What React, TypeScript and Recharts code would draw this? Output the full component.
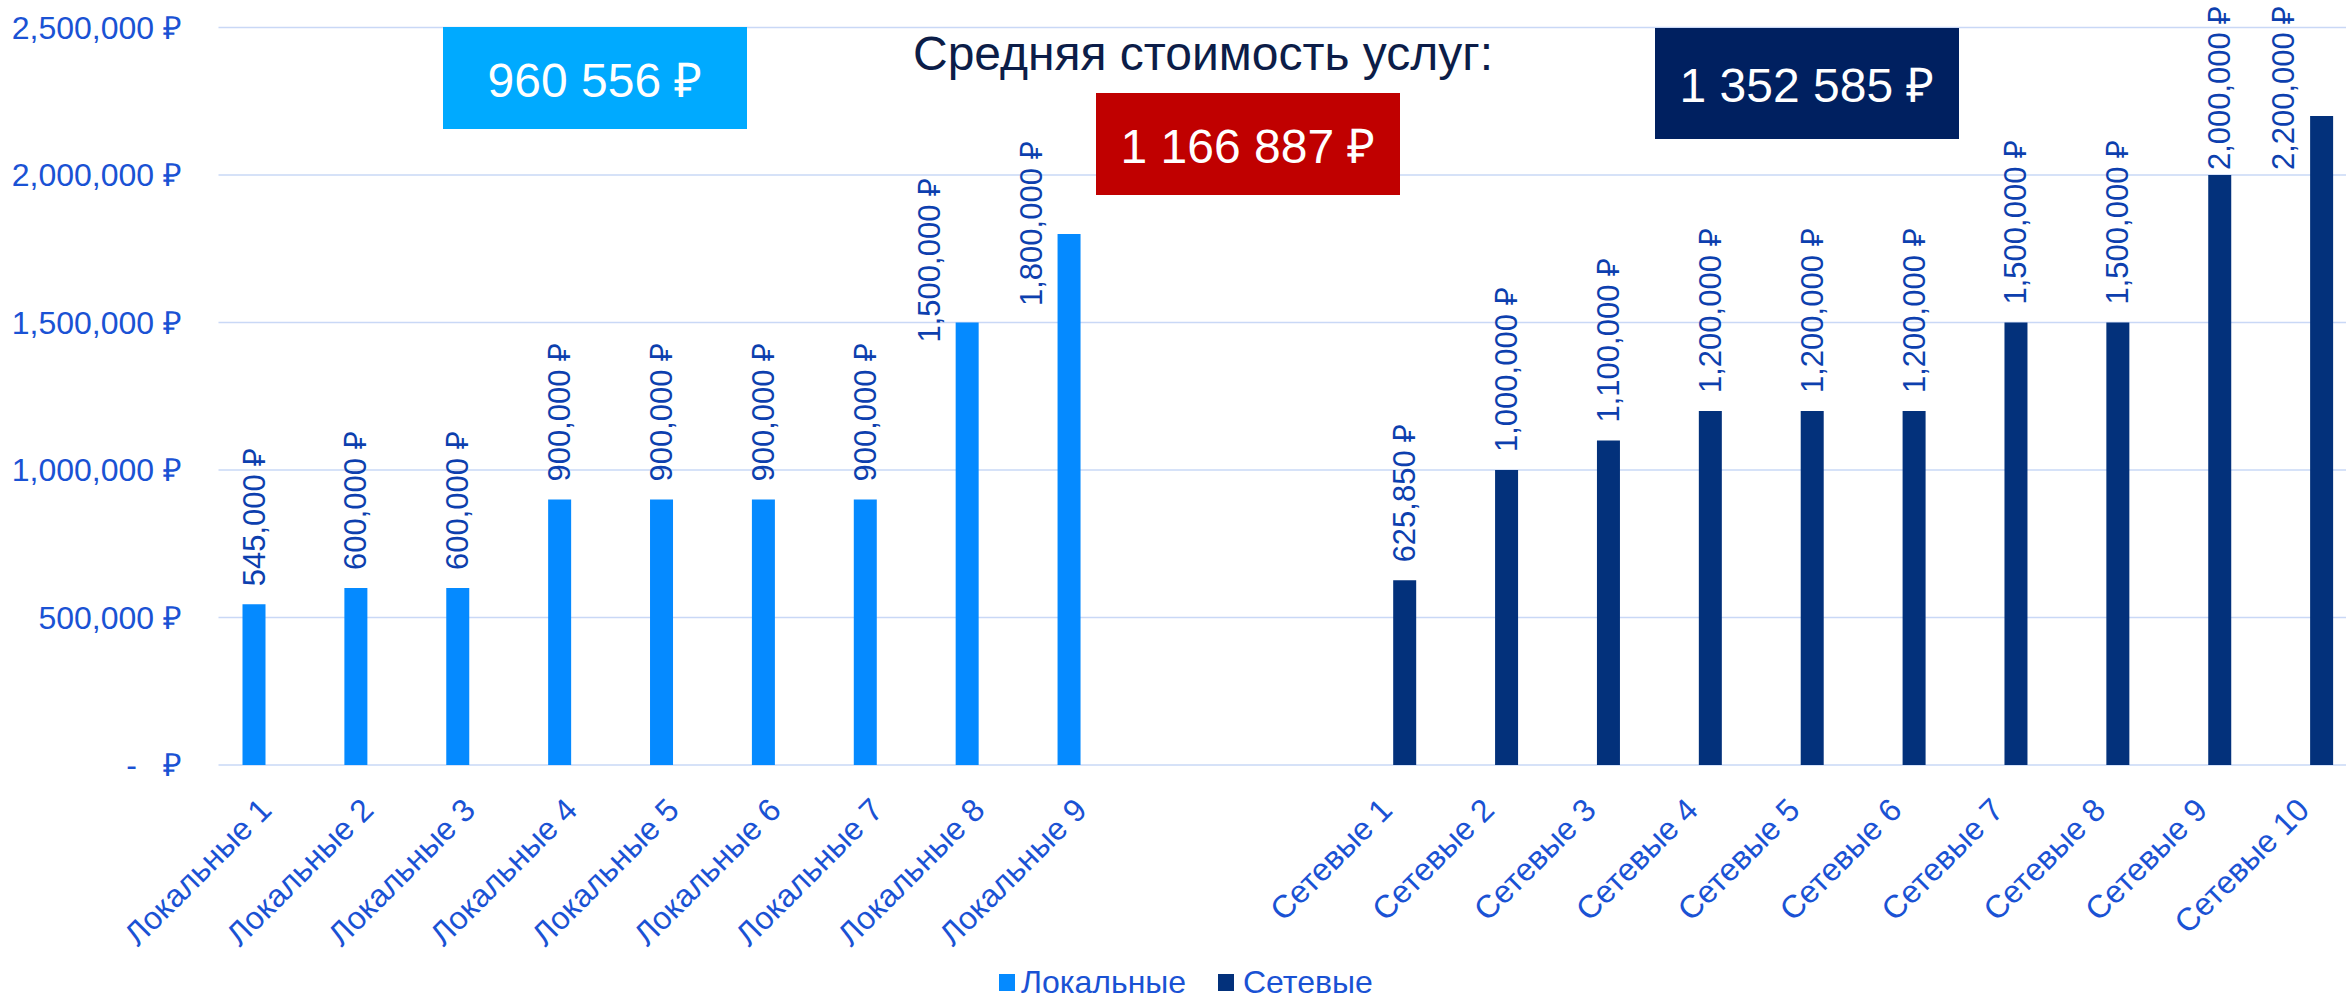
import React from 'react';
import { BarChart, Bar, XAxis, YAxis, CartesianGrid, Legend, LabelList } from 'recharts';

const localNames = ['Локальные 1','Локальные 2','Локальные 3','Локальные 4','Локальные 5','Локальные 6','Локальные 7','Локальные 8','Локальные 9'];
const localValues = [545000, 600000, 600000, 900000, 900000, 900000, 900000, 1500000, 1800000];
const networkNames = ['Сетевые 1','Сетевые 2','Сетевые 3','Сетевые 4','Сетевые 5','Сетевые 6','Сетевые 7','Сетевые 8','Сетевые 9','Сетевые 10'];
const networkValues = [625850, 1000000, 1100000, 1200000, 1200000, 1200000, 1500000, 1500000, 2000000, 2200000];
const gapCategories = ['', ''];
const yTicks = [0, 500000, 1000000, 1500000, 2000000, 2500000];
const seriesNames = { local: 'Локальные', network: 'Сетевые' };
const titleText = 'Средняя стоимость услуг:';
// labels that were dragged beside their bar in the source (style: how far below the bar top their start sits)
const sideLabelDrop: Record<string, number> = { 'Локальные 8': 20, 'Локальные 9': 72, 'Сетевые 10': 20 };

type Row = { name: string; local: number | null; network: number | null };
const rows: Row[] = [
  ...localNames.map((n, i) => ({ name: n, local: localValues[i], network: null })),
  ...gapCategories.map((n) => ({ name: n, local: null, network: null })),
  ...networkNames.map((n, i) => ({ name: n, local: null, network: networkValues[i] })),
];

const mean = (a: number[]) => a.reduce((s, v) => s + v, 0) / a.length;
const avgLocal = mean(localValues);
const avgNetwork = mean(networkValues);
const avgAll = mean([...localValues, ...networkValues]);

const group = (v: number, sep: string) => {
  const s = Math.round(v).toString();
  return s.replace(/\B(?=(\d{3})+(?!\d))/g, sep);
};
const fmtComma = (v: number) => group(v, ',') + ' ₽';
const fmtSpace = (v: number) => group(v, ' ') + ' ₽';

const FONT = '"Liberation Sans", Arial, sans-serif';
const C_LOCAL = '#058aff';
const C_NET = '#03317b';
const C_AXIS = '#1a52d4';
const C_LABEL = '#0d3fae';
const C_GRID = '#c9d8f6';

const W = 2362;
const H = 1002;

const charW = (c: string) => {
  if (/[0-9]/.test(c)) return 0.556;
  if (c === ',' || c === ' ') return 0.278;
  return 0.6;
};
const textLen = (s: string, fs: number) => s.split('').reduce((a, c) => a + charW(c), 0) * fs;

const LABEL_FS = 31;

const makeLabel = (names: string[]) => (props: any) => {
  const { x, y, width, value, index } = props;
  if (value == null || value === 0) return null;
  const txt = fmtComma(Number(value));
  const len = textLen(txt, LABEL_FS);
  const name = (props.payload && props.payload.name) || names[index];
  const drop = sideLabelDrop[name];
  let cx = Number(x) + Number(width) / 2;
  let bottom = Number(y) - 18;
  if (drop !== undefined) {
    cx = Number(x) + Number(width) / 2 - 38;
    bottom = Number(y) + drop;
  }
  if (bottom - len < 5) bottom = 5 + len;
  return (
    <text
      transform={`translate(${cx},${bottom}) rotate(-90)`}
      textAnchor="start"
      dominantBaseline="central"
      fontSize={LABEL_FS}
      fontFamily={FONT}
      fill={C_LABEL}
    >
      {txt}
    </text>
  );
};

const XTick = (props: any) => {
  const { x, y, payload } = props;
  if (!payload || !payload.value) return null;
  const ax = x + 4;
  const ay = y + 47;
  return (
    <text x={ax} y={ay} transform={`rotate(-45, ${ax}, ${ay})`} textAnchor="end" fontSize={32} fontFamily={FONT} fill={C_AXIS}>
      {payload.value}
    </text>
  );
};

const YTick = (props: any) => {
  const { x, y, payload } = props;
  const ex = x - 36.5;
  if (payload.value === 0) {
    return (
      <g>
        <text x={ex - 45} y={y} textAnchor="end" dominantBaseline="central" fontSize={32} fontFamily={FONT} fill={C_AXIS}>-</text>
        <text x={ex} y={y} textAnchor="end" dominantBaseline="central" fontSize={32} fontFamily={FONT} fill={C_AXIS}>₽</text>
      </g>
    );
  }
  return (
    <text x={ex} y={y} textAnchor="end" dominantBaseline="central" fontSize={32} fontFamily={FONT} fill={C_AXIS}>
      {fmtComma(payload.value)}
    </text>
  );
};

const LegendContent = () => (
  <div style={{ position: 'relative', height: 42, width: W, fontFamily: FONT }}>
    <div style={{ position: 'absolute', left: 999, top: 14, width: 16, height: 17, background: C_LOCAL }} />
    <div style={{ position: 'absolute', left: 1021, top: 6, fontSize: 32, lineHeight: '32px', color: C_AXIS, whiteSpace: 'nowrap' }}>{seriesNames.local}</div>
    <div style={{ position: 'absolute', left: 1218, top: 14, width: 16, height: 17, background: C_NET }} />
    <div style={{ position: 'absolute', left: 1243, top: 6, fontSize: 32, lineHeight: '32px', color: C_AXIS, whiteSpace: 'nowrap' }}>{seriesNames.network}</div>
  </div>
);

const boxText: React.CSSProperties = {
  position: 'absolute',
  display: 'flex',
  alignItems: 'center',
  justifyContent: 'center',
  color: '#ffffff',
  fontSize: 48,
  fontFamily: FONT,
  whiteSpace: 'nowrap',
};

export default function App() {
  return (
    <div style={{ position: 'absolute', left: 0, top: 0, width: 2346, height: 1002, overflow: 'hidden', background: '#fff', fontFamily: FONT }}>
      <BarChart width={W} height={H} data={rows} margin={{ top: 27.5, right: 4, bottom: 0, left: 0 }} barGap={7}>
        <CartesianGrid vertical={false} stroke={C_GRID} strokeWidth={1.5} />
        <XAxis dataKey="name" interval={0} axisLine={false} tickLine={false} tickSize={0} tickMargin={0} height={195} tick={<XTick />} />
        <YAxis domain={[0, 2500000]} ticks={yTicks} width={218.5} axisLine={false} tickLine={false} tickSize={0} tickMargin={0} tick={<YTick />} interval={0} />
        <Legend verticalAlign="bottom" content={<LegendContent />} wrapperStyle={{ left: 0, bottom: 0, width: W, height: 42 }} />
        <Bar dataKey="local" name={seriesNames.local} fill={C_LOCAL} barSize={23} isAnimationActive={false}>
          <LabelList dataKey="local" content={makeLabel(localNames)} />
        </Bar>
        <Bar dataKey="network" name={seriesNames.network} fill={C_NET} barSize={23} isAnimationActive={false}>
          <LabelList dataKey="network" content={makeLabel(networkNames)} />
        </Bar>
      </BarChart>
      <div style={{ ...boxText, left: 443, top: 27, width: 304, height: 102, background: '#00aaff' }}>{fmtSpace(avgLocal)}</div>
      <div style={{ ...boxText, left: 1096, top: 93, width: 304, height: 102, background: '#c00000' }}>{fmtSpace(avgAll)}</div>
      <div style={{ ...boxText, left: 1655, top: 28, width: 304, height: 111, background: '#002060' }}>{fmtSpace(avgNetwork)}</div>
      <div style={{ position: 'absolute', left: 913, top: 26, width: 580, textAlign: 'center', fontSize: 48, lineHeight: '56px', color: '#0c1d48', fontFamily: FONT, whiteSpace: 'nowrap' }}>{titleText}</div>
    </div>
  );
}
